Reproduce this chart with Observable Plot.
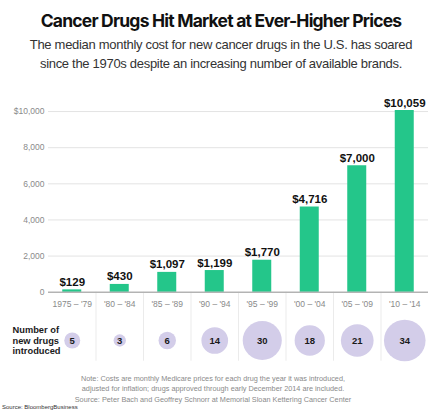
<!DOCTYPE html>
<html><head><meta charset="utf-8">
<script src="https://cdn.jsdelivr.net/npm/d3@7"></script>
<script src="https://cdn.jsdelivr.net/npm/@observablehq/plot@0.6"></script>
<style>
html,body{margin:0;padding:0;background:#fff;overflow:hidden}
body{width:442px;height:415px;font-family:"Liberation Sans",Arial,sans-serif;color:#222}
#title{padding-top:10px;font-family:Inter,"Liberation Sans",sans-serif;font-weight:700;font-size:17.5px;line-height:22px;letter-spacing:-0.8px;text-align:center;color:#111}
#sub{margin-top:3px;font-size:13px;line-height:19px;letter-spacing:-0.3px;text-align:center;color:#333}
#chart{margin-top:12px;height:280px}
#chart svg{overflow:visible;display:block}
#note{padding-top:8.5px;padding-right:16px;font-size:7.3px;line-height:10.5px;text-align:center;color:#8a8a8a}
#src{margin-top:-1px;padding-left:2px;font-size:6px;line-height:7px;color:#333}
</style></head><body>
<div id="title"></div>
<div id="sub"></div>
<div id="chart"></div>
<div id="note"></div>
<div id="src"></div>
<script>
const titleText = "Cancer Drugs Hit Market at Ever-Higher Prices";
const subtitleLines = ["The median monthly cost for new cancer drugs in the U.S. has soared", "since the 1970s despite an increasing number of available brands."];
const noteLines = ["Note: Costs are monthly Medicare prices for each drug the year it was introduced,", "adjusted for inflation; drugs approved through early December 2014 are included.", "Source: Peter Bach and Geoffrey Schnorr at Memorial Sloan Kettering Cancer Center"];
const sourceText = "Source: BloombergBusiness";

const periods = ["1975 – '79", "'80 – '84", "'85 – '89", "'90 – '94", "'95 – '99", "'00 – '04", "'05 – '09", "'10 – '14"];
const medianCost = [129, 430, 1097, 1199, 1770, 4716, 7000, 10059];
const costLabels = ["$129", "$430", "$1,097", "$1,199", "$1,770", "$4,716", "$7,000", "$10,059"];
const newDrugs = [5, 3, 6, 14, 30, 18, 21, 34];
const yTicks = [0, 2000, 4000, 6000, 8000, 10000];
const yTickLabels = ["0", "2,000", "4,000", "6,000", "8,000", "$10,000"];
const rowLabel = "Number of\nnew drugs\nintroduced";

document.getElementById("title").textContent = titleText;
document.getElementById("sub").innerHTML = subtitleLines.join("<br>");
document.getElementById("note").innerHTML = noteLines.join("<br>");
document.getElementById("src").textContent = sourceText;

const data = periods.map((p, i) => ({period: p, cost: medianCost[i], label: costLabels[i], drugs: newDrugs[i]}));

const W = 442, ML = 48, MR = 14, PI = 0.6, PO = 0.3;
const step = (W - ML - MR) / (periods.length - PI + 2 * PO);
const fontFam = "Liberation Sans, Arial, sans-serif";

const chart = Plot.plot({
  width: W,
  height: 280,
  marginTop: 25,
  marginBottom: 73.3,
  marginLeft: ML,
  marginRight: MR,
  style: {fontFamily: fontFam, overflow: "visible", background: "#fff"},
  x: {domain: periods, paddingInner: PI, paddingOuter: PO, round: false, axis: null},
  y: {domain: [0, 10059], axis: null},
  r: {type: "sqrt", domain: [0, 34], range: [0, 20.8]},
  marks: [
    Plot.gridY(yTicks, {stroke: "#e3e3e3", strokeOpacity: 1}),
    Plot.axisY(yTicks, {label: null, tickSize: 0, tickPadding: 4, tickFormat: d => yTickLabels[yTicks.indexOf(d)], fill: "#8a8a8a", fontSize: 8.5}),
    Plot.ruleX(periods.slice(0, -1), {x: d => d, y1: 0, y2: 0, insetBottom: -69, dx: step / 2, stroke: "#ebebeb"}),
    Plot.barY(data, {x: "period", y: "cost", fill: "#24c68a"}),
    Plot.ruleY([0], {stroke: "#9a9a9a"}),
    Plot.text(data, {x: "period", y: "cost", text: "label", lineAnchor: "bottom", dy: -4, fontWeight: "bold", fontSize: 11.5, fill: "#111"}),
    Plot.axisX({label: null, tickSize: 0, tickPadding: 9, fill: "#8a8a8a", fontSize: 8.5}),
    Plot.dot(data, {x: "period", y: 0, r: "drugs", fill: "#d3cde9", dy: 48.3}),
    Plot.text(data, {x: "period", y: 0, text: d => String(d.drugs), dy: 48.3, fontWeight: "bold", fontSize: 9.5, fill: "#1a1a1a"}),
    Plot.text([rowLabel], {frameAnchor: "bottom-left", text: d => d, dx: -36, dy: 48.3, textAnchor: "start", lineAnchor: "middle", lineHeight: 1.12, fontWeight: "bold", fontSize: 9.3, fill: "#1a1a1a"})
  ]
});
document.getElementById("chart").appendChild(chart);
</script>
</body></html>
